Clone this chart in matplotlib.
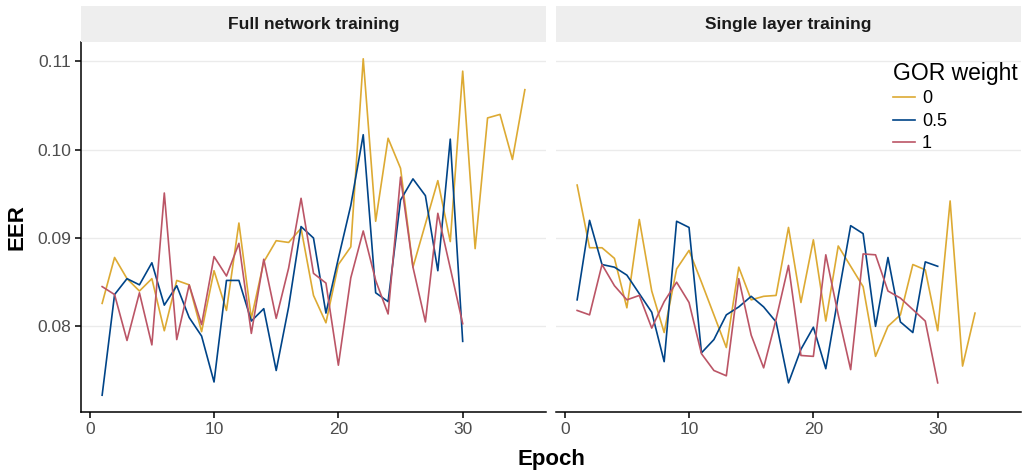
import matplotlib
matplotlib.use('Agg')
import matplotlib.pyplot as plt
import numpy as np

plt.rcParams['font.family'] = ['Liberation Sans', 'DejaVu Sans']

# GOR weight levels and colours
weights = ['0', '0.5', '1']
colors = ['#DDAA33', '#004488', '#BB5566']

# full network training
full_w0 = [0.0826, 0.0878, 0.0854, 0.0840, 0.0854, 0.0795, 0.0852, 0.0847, 0.0794, 0.0863,
           0.0818, 0.0917, 0.0809, 0.0873, 0.0897, 0.0895, 0.0911, 0.0835, 0.0804, 0.0870,
           0.0890, 0.1103, 0.0919, 0.1013, 0.0979, 0.0867, 0.0916, 0.0965, 0.0896, 0.1089,
           0.0888, 0.1036, 0.1040, 0.0989, 0.1068]
full_w05 = [0.0722, 0.0836, 0.0854, 0.0847, 0.0872, 0.0824, 0.0846, 0.0810, 0.0789, 0.0737,
            0.0852, 0.0852, 0.0806, 0.0820, 0.0750, 0.0822, 0.0913, 0.0900, 0.0815, 0.0877,
            0.0937, 0.1017, 0.0838, 0.0828, 0.0943, 0.0967, 0.0948, 0.0863, 0.1012, 0.0783]
full_w1 = [0.0845, 0.0836, 0.0784, 0.0838, 0.0779, 0.0951, 0.0785, 0.0847, 0.0802, 0.0879,
           0.0857, 0.0894, 0.0792, 0.0876, 0.0809, 0.0866, 0.0945, 0.0860, 0.0849, 0.0756,
           0.0855, 0.0908, 0.0852, 0.0814, 0.0969, 0.0867, 0.0805, 0.0928, 0.0866, 0.0803]

# single layer training
single_w0 = [0.0960, 0.0889, 0.0889, 0.0877, 0.0821, 0.0921, 0.0840, 0.0793, 0.0865, 0.0886,
             0.0850, 0.0813, 0.0776, 0.0867, 0.0830, 0.0834, 0.0835, 0.0912, 0.0827, 0.0898,
             0.0806, 0.0891, 0.0868, 0.0845, 0.0766, 0.0800, 0.0813, 0.0870, 0.0864, 0.0795,
             0.0942, 0.0755, 0.0815]
single_w05 = [0.0830, 0.0920, 0.0870, 0.0867, 0.0858, 0.0837, 0.0816, 0.0760, 0.0919, 0.0912,
              0.0770, 0.0785, 0.0813, 0.0822, 0.0834, 0.0822, 0.0805, 0.0736, 0.0774, 0.0799,
              0.0752, 0.0834, 0.0914, 0.0905, 0.0800, 0.0878, 0.0805, 0.0793, 0.0873, 0.0868]
single_w1 = [0.0818, 0.0813, 0.0870, 0.0846, 0.0830, 0.0835, 0.0798, 0.0828, 0.0850, 0.0827,
             0.0769, 0.0750, 0.0744, 0.0854, 0.0790, 0.0753, 0.0808, 0.0869, 0.0767, 0.0766,
             0.0881, 0.0813, 0.0751, 0.0882, 0.0881, 0.0840, 0.0832, 0.0819, 0.0806, 0.0736]

panels = [('Full network training', [full_w0, full_w05, full_w1]),
          ('Single layer training', [single_w0, single_w05, single_w1])]

W, H = 1024, 472
fig = plt.figure(figsize=(W / 100, H / 100), dpi=100)

def fx(px):
    return px / W

def fy(py):
    return 1 - py / H

ax_boxes = [(81, 546), (556, 1021)]
top, bottom, strip_top = 42, 412, 6

axes = []
for i, ((title, series), (x0, x1)) in enumerate(zip(panels, ax_boxes)):
    ax = fig.add_axes([fx(x0), fy(bottom), fx(x1 - x0), (bottom - top) / H])
    for vals, c, w in zip(series, colors, weights):
        ax.plot(np.arange(1, len(vals) + 1), vals, color=c, lw=1.2, label=w)
    ax.set_xlim(-0.7, 36.7)
    ax.set_ylim(0.0703, 0.1122)
    ax.set_xticks([0, 10, 20, 30])
    ax.set_yticks([0.08, 0.09, 0.10, 0.11])
    ax.set_yticklabels(['0.08', '0.09', '0.10', '0.11'])
    ax.grid(axis='y', color='#EBEBEB', lw=1.0)
    ax.set_axisbelow(True)
    for s in ['top', 'right']:
        ax.spines[s].set_visible(False)
    ax.spines['bottom'].set_linewidth(1.1)
    ax.spines['left'].set_linewidth(1.1)
    ax.tick_params(axis='both', colors='black', labelcolor='#4D4D4D', labelsize=12.5,
                   length=4, width=1.1, pad=3)
    if i == 1:
        ax.spines['left'].set_visible(False)
        ax.tick_params(axis='y', left=False, labelleft=False)

    # facet strip
    sax = fig.add_axes([fx(x0), fy(top), fx(x1 - x0), (top - strip_top) / H])
    sax.set_facecolor('#EEEEEE')
    sax.set_xticks([])
    sax.set_yticks([])
    for s in sax.spines.values():
        s.set_visible(False)
    sax.text(0.5, 0.5, title, ha='center', va='center', fontsize=12.5,
             fontweight='bold', color='#1A1A1A', transform=sax.transAxes)
    axes.append(ax)

fig.text(fx(551), fy(459), 'Epoch', ha='center', va='center', fontsize=16, fontweight='bold')
fig.text(fx(17), fy(227), 'EER', ha='center', va='center', fontsize=16, fontweight='bold',
         rotation=90)

leg = axes[1].legend(title='GOR weight', loc='upper left', frameon=False,
                     bbox_to_anchor=(fx(893), fy(62)), bbox_transform=fig.transFigure,
                     fontsize=13, title_fontsize=16.5, handlelength=1.2,
                     handletextpad=0.4, labelspacing=0.3, borderaxespad=0,
                     borderpad=0)
leg._legend_box.align = 'left'

fig.savefig('out.png', dpi=100)
